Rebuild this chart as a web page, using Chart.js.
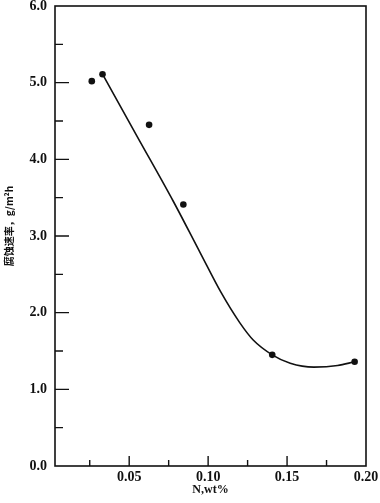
<!DOCTYPE html>
<html>
<head>
<meta charset="utf-8">
<script src="https://cdn.jsdelivr.net/npm/chart.js@4.4.1/dist/chart.umd.min.js"></script>
<style>
html,body{margin:0;padding:0;background:#fff;}
#wrap{width:380px;height:503px;position:relative;}
</style>
</head>
<body>
<div id="wrap"><canvas id="c" width="380" height="503"></canvas></div>
<script>
// measured points
const pointX = [0.0263, 0.0331, 0.0626, 0.0843, 0.1406, 0.1928];
const pointY = [5.02, 5.11, 4.45, 3.41, 1.45, 1.36];
// fitted curve
const curveX = [0.0331, 0.055, 0.078, 0.095, 0.108, 0.120, 0.1287, 0.1406, 0.152, 0.167, 0.182, 0.1928];
const curveY = [5.11, 4.30, 3.45, 2.78, 2.27, 1.87, 1.64, 1.45, 1.34, 1.29, 1.31, 1.36];
// axis ticks
const xTicks = [0.025, 0.05, 0.075, 0.10, 0.125, 0.15, 0.175, 0.20];
const xTickLabels = {"0.05":"0.05","0.1":"0.10","0.15":"0.15","0.2":"0.20"};
const yTicks = [0, 0.5, 1, 1.5, 2, 2.5, 3, 3.5, 4, 4.5, 5, 5.5, 6];
const yTickLabels = {"0":"0.0","1":"1.0","2":"2.0","3":"3.0","4":"4.0","5":"5.0","6":"6.0"};
const xTitle = "N,wt%";
const yTitle = "　　腐蚀速率，g/m²h";

const tickFont = {family: "'Liberation Serif', 'DejaVu Serif', serif", size: 14, weight: 'bold'};

const innerTicks = {
  id: 'innerTicks',
  afterDraw(chart) {
    const ctx = chart.ctx;
    const a = chart.chartArea;
    const xs = chart.scales.x, ys = chart.scales.y;
    ctx.save();
    ctx.strokeStyle = '#111';
    ctx.lineWidth = 1.6;
    ctx.strokeRect(a.left, a.top, a.right - a.left, a.bottom - a.top);
    ctx.lineWidth = 1.4;
    ctx.beginPath();
    xs.ticks.forEach(t => {
      const px = xs.getPixelForValue(t.value);
      if (px >= a.right - 1) return;
      const major = !!xTickLabels[String(+t.value.toFixed(3))];
      ctx.moveTo(px, a.bottom);
      ctx.lineTo(px, a.bottom - (major ? 10 : 6));
    });
    ys.ticks.forEach(t => {
      const py = ys.getPixelForValue(t.value);
      if (py <= a.top + 1 || py >= a.bottom - 1) return;
      const major = !!yTickLabels[String(+t.value.toFixed(3))];
      ctx.moveTo(a.left, py);
      ctx.lineTo(a.left + (major ? 14 : 8), py);
    });
    ctx.stroke();
    ctx.restore();
  }
};

new Chart(document.getElementById('c'), {
  type: 'scatter',
  data: {
    datasets: [
      {
        data: curveX.map((x, i) => ({x: x, y: curveY[i]})),
        showLine: true,
        borderColor: '#111',
        borderWidth: 1.6,
        pointRadius: 0,
        cubicInterpolationMode: 'monotone',
        fill: false
      },
      {
        data: pointX.map((x, i) => ({x: x, y: pointY[i]})),
        showLine: false,
        backgroundColor: '#111',
        borderColor: '#111',
        pointRadius: 3.3,
        pointBorderWidth: 0
      }
    ]
  },
  options: {
    responsive: false,
    animation: false,
    layout: {padding: {left: 0, right: 14, top: 6, bottom: 0}},
    plugins: {legend: {display: false}, tooltip: {enabled: false}},
    scales: {
      x: {
        type: 'linear',
        min: 0.003,
        max: 0.2,
        afterBuildTicks: s => { s.ticks = xTicks.map(v => ({value: v})); },
        afterFit: s => { s.height = 37; s.paddingLeft = 0; s.paddingRight = 0; },
        grid: {display: false, drawTicks: false},
        border: {display: false},
        ticks: {
          padding: 3,
          color: '#111',
          font: tickFont,
          maxRotation: 0,
          autoSkip: false,
          callback: v => xTickLabels[String(+(+v).toFixed(3))] || ''
        },
        title: {
          display: true,
          text: xTitle,
          color: '#111',
          font: {family: "'Liberation Serif', serif", size: 12, weight: 'bold'},
          padding: {top: 0, bottom: 6}
        }
      },
      y: {
        type: 'linear',
        min: 0,
        max: 6,
        afterBuildTicks: s => { s.ticks = yTicks.map(v => ({value: v})); },
        afterFit: s => { s.width = 55; s.paddingTop = 0; s.paddingBottom = 0; },
        grid: {display: false, drawTicks: false},
        border: {display: false},
        ticks: {
          padding: 8,
          color: '#111',
          font: tickFont,
          autoSkip: false,
          callback: v => yTickLabels[String(+(+v).toFixed(3))] || ''
        },
        title: {
          display: true,
          text: yTitle,
          color: '#111',
          font: {family: "'Noto Sans CJK SC', 'Liberation Serif', serif", size: 10, weight: 'bold'},
          padding: {top: 3, bottom: 0}
        }
      }
    }
  },
  plugins: [innerTicks]
});
</script>
</body>
</html>
